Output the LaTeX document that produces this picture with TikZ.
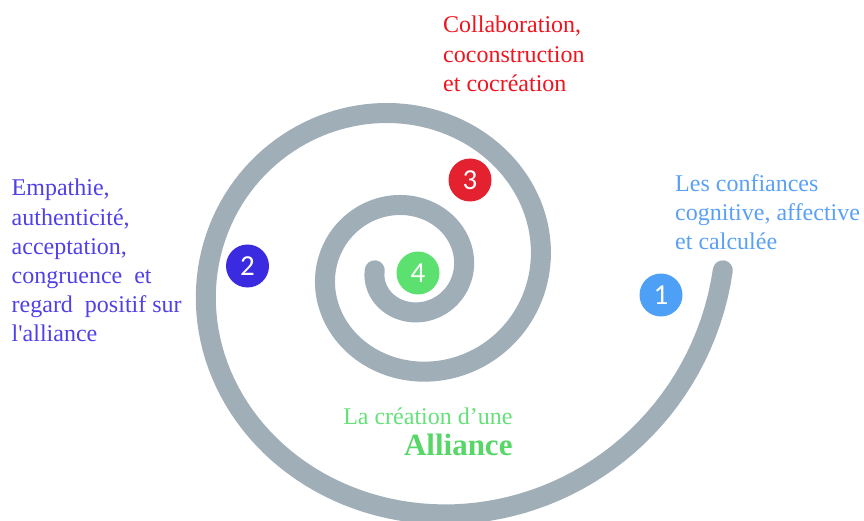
\documentclass[tikz,border=0pt]{standalone}
\usepackage{fontspec}
\setmainfont{Liberation Serif}[Ligatures=Common]
\newfontfamily\numfont{Carlito}
\definecolor{spiralgray}{RGB}{160,174,184}
\definecolor{cOne}{RGB}{77,160,245}
\definecolor{cTwo}{RGB}{58,43,224}
\definecolor{cThree}{RGB}{227,33,47}
\definecolor{cFour}{RGB}{92,225,112}
\definecolor{tRed}{RGB}{240,20,30}
\definecolor{tViolet}{RGB}{80,64,230}
\definecolor{tBlue}{RGB}{90,160,245}
\definecolor{tGreen}{RGB}{100,225,120}
\definecolor{tGreenB}{RGB}{88,215,105}
\begin{document}
\begin{tikzpicture}[x=1pt,y=-1pt,
  spiral/.style={draw=spiralgray, line width=20pt, line cap=round},
  numdot/.style={circle, minimum size=43pt, inner sep=0pt, text=white, font=\numfont\fontsize{29}{30}\selectfont},
  lbl/.style={anchor=base west, inner sep=0pt, font=\fontsize{24}{29.2}\selectfont}]
\useasboundingbox (0,0) rectangle (864,521);
% spiral
\draw[spiral] plot[domain=-180:720, samples=361, variable=\t]
  ({409.6 + 1.04*51.93*exp(0.0024385*\t)*cos(\t)}, {270.3 - 51.93*exp(0.0024385*\t)*sin(\t)});
% numbered dots
\node[numdot, fill=cOne]   (n1) at (661,295)   {1};
\node[numdot, fill=cTwo]   (n2) at (247.5,266) {2};
\node[numdot, fill=cThree] (n3) at (470,180)   {3};
\node[numdot, fill=cFour]  (n4) at (418,273)   {4};
% labels
\node[lbl, text=tRed] (t3) at (443,33)
  {\begin{tabular}[t]{@{}l@{}}Collaboration,\\ coconstruction\\ et cocréation\end{tabular}};
\node[lbl, text=tViolet] (t2) at (11.5,196)
  {\begin{tabular}[t]{@{}l@{}}Empathie,\\ authenticité,\\ acceptation,\\ congruence\ \ et\\ regard\ \ positif sur\\ l\textquotesingle alliance\end{tabular}};
\node[lbl, text=tBlue] (t1) at (675,191.5)
  {\begin{tabular}[t]{@{}l@{}}Les confiances\\ cognitive, affective\\ et calculée\end{tabular}};
\node[anchor=base east, inner sep=0pt, text=tGreen, font=\fontsize{24}{29}\selectfont] (t4a) at (512.7,424.3) {La création d’une};
\node[anchor=base east, inner sep=0pt, text=tGreenB, font=\fontsize{31}{34}\selectfont\bfseries] (t4b) at (512.7,455.5) {Alliance};
\end{tikzpicture}
\end{document}
